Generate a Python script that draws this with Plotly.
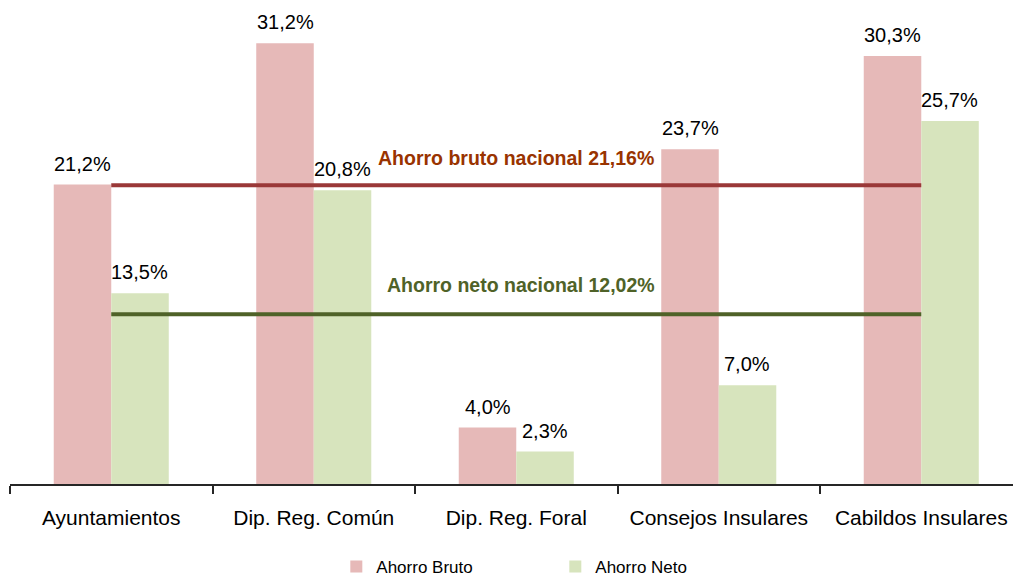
import plotly.graph_objects as go

# Categories and series
categorias = ["Ayuntamientos", "Dip. Reg. Común", "Dip. Reg. Foral", "Consejos Insulares", "Cabildos Insulares"]
ahorro_bruto = [21.2, 31.2, 4.0, 23.7, 30.3]
ahorro_neto = [13.5, 20.8, 2.3, 7.0, 25.7]

# National reference values
bruto_nacional = 21.16
neto_nacional = 12.02

COL_BRUTO = "#E6B9B8"
COL_NETO = "#D7E4BD"
COL_LINE_BRUTO = "#9A3838"
COL_TXT_BRUTO = "#993300"
COL_LINE_NETO = "#4F6228"

FONT = "Liberation Sans Narrow, Arial Narrow, Liberation Sans, Arial, sans-serif"

fig = go.Figure()

fig.add_trace(go.Bar(
    x=categorias, y=ahorro_bruto, name="Ahorro Bruto",
    marker=dict(color=COL_BRUTO, line=dict(width=0)),
    hovertemplate="%{x}: %{y:.1f}%<extra></extra>",
))
fig.add_trace(go.Bar(
    x=categorias, y=ahorro_neto, name="Ahorro Neto",
    marker=dict(color=COL_NETO, line=dict(width=0)),
    hovertemplate="%{x}: %{y:.1f}%<extra></extra>",
))

# National average lines spanning first to last category
fig.add_trace(go.Scatter(
    x=[categorias[0], categorias[-1]], y=[bruto_nacional, bruto_nacional],
    mode="lines", line=dict(color=COL_LINE_BRUTO, width=4),
    showlegend=False, hoverinfo="skip",
))
fig.add_trace(go.Scatter(
    x=[categorias[0], categorias[-1]], y=[neto_nacional, neto_nacional],
    mode="lines", line=dict(color=COL_LINE_NETO, width=4),
    showlegend=False, hoverinfo="skip",
))

def fmt(v, d):
    return f"{v:.{d}f}".replace(".", ",")

# Value labels above each bar
BAR_HALF_PX = 28.7
for serie, shift in ((ahorro_bruto, -BAR_HALF_PX), (ahorro_neto, BAR_HALF_PX)):
    for cat, val in zip(categorias, serie):
        fig.add_annotation(
            x=cat, y=val, xref="x", yref="y", xshift=shift, yshift=8,
            yanchor="bottom", text=f"{fmt(val, 1)}%", showarrow=False,
            font=dict(family=FONT, size=20, color="#000000"),
        )

fig.add_annotation(
    x=0.504, xref="paper", y=bruto_nacional, yref="y", yshift=27,
    text=f"<b>Ahorro bruto nacional {fmt(bruto_nacional, 2)}%</b>",
    showarrow=False, font=dict(family=FONT, size=19.5, color=COL_TXT_BRUTO),
)
fig.add_annotation(
    x=0.509, xref="paper", y=neto_nacional, yref="y", yshift=29,
    text=f"<b>Ahorro neto nacional {fmt(neto_nacional, 2)}%</b>",
    showarrow=False, font=dict(family=FONT, size=19.5, color=COL_LINE_NETO),
)

fig.update_layout(
    width=1013, height=578,
    margin=dict(l=10, r=0, t=0, b=94, autoexpand=False),
    paper_bgcolor="white", plot_bgcolor="white",
    separators=",.",
    barmode="group", bargap=0.432, bargroupgap=0,
    font=dict(family=FONT, color="#000000"),
    showlegend=True,
    legend=dict(
        orientation="h", xref="container", yref="container",
        x=0.332, xanchor="left", y=0.019, yanchor="middle",
        font=dict(family=FONT, size=17, color="#000000"),
        entrywidth=174, entrywidthmode="pixels",
        itemwidth=30,
    ),
    xaxis=dict(
        range=[-0.5, 4.453],
        showline=True, linecolor="#262626", linewidth=1.5,
        ticks="outside", tickson="boundaries", ticklen=8, tickcolor="#262626", tickwidth=1.5,
        tickfont=dict(family=FONT, size=21, color="#000000"),
        ticklabelstandoff=14,
        showgrid=False, zeroline=False,
    ),
    yaxis=dict(
        range=[0, 34.27], visible=False, showgrid=False, zeroline=False,
    ),
)

fig.write_html("out.html")
